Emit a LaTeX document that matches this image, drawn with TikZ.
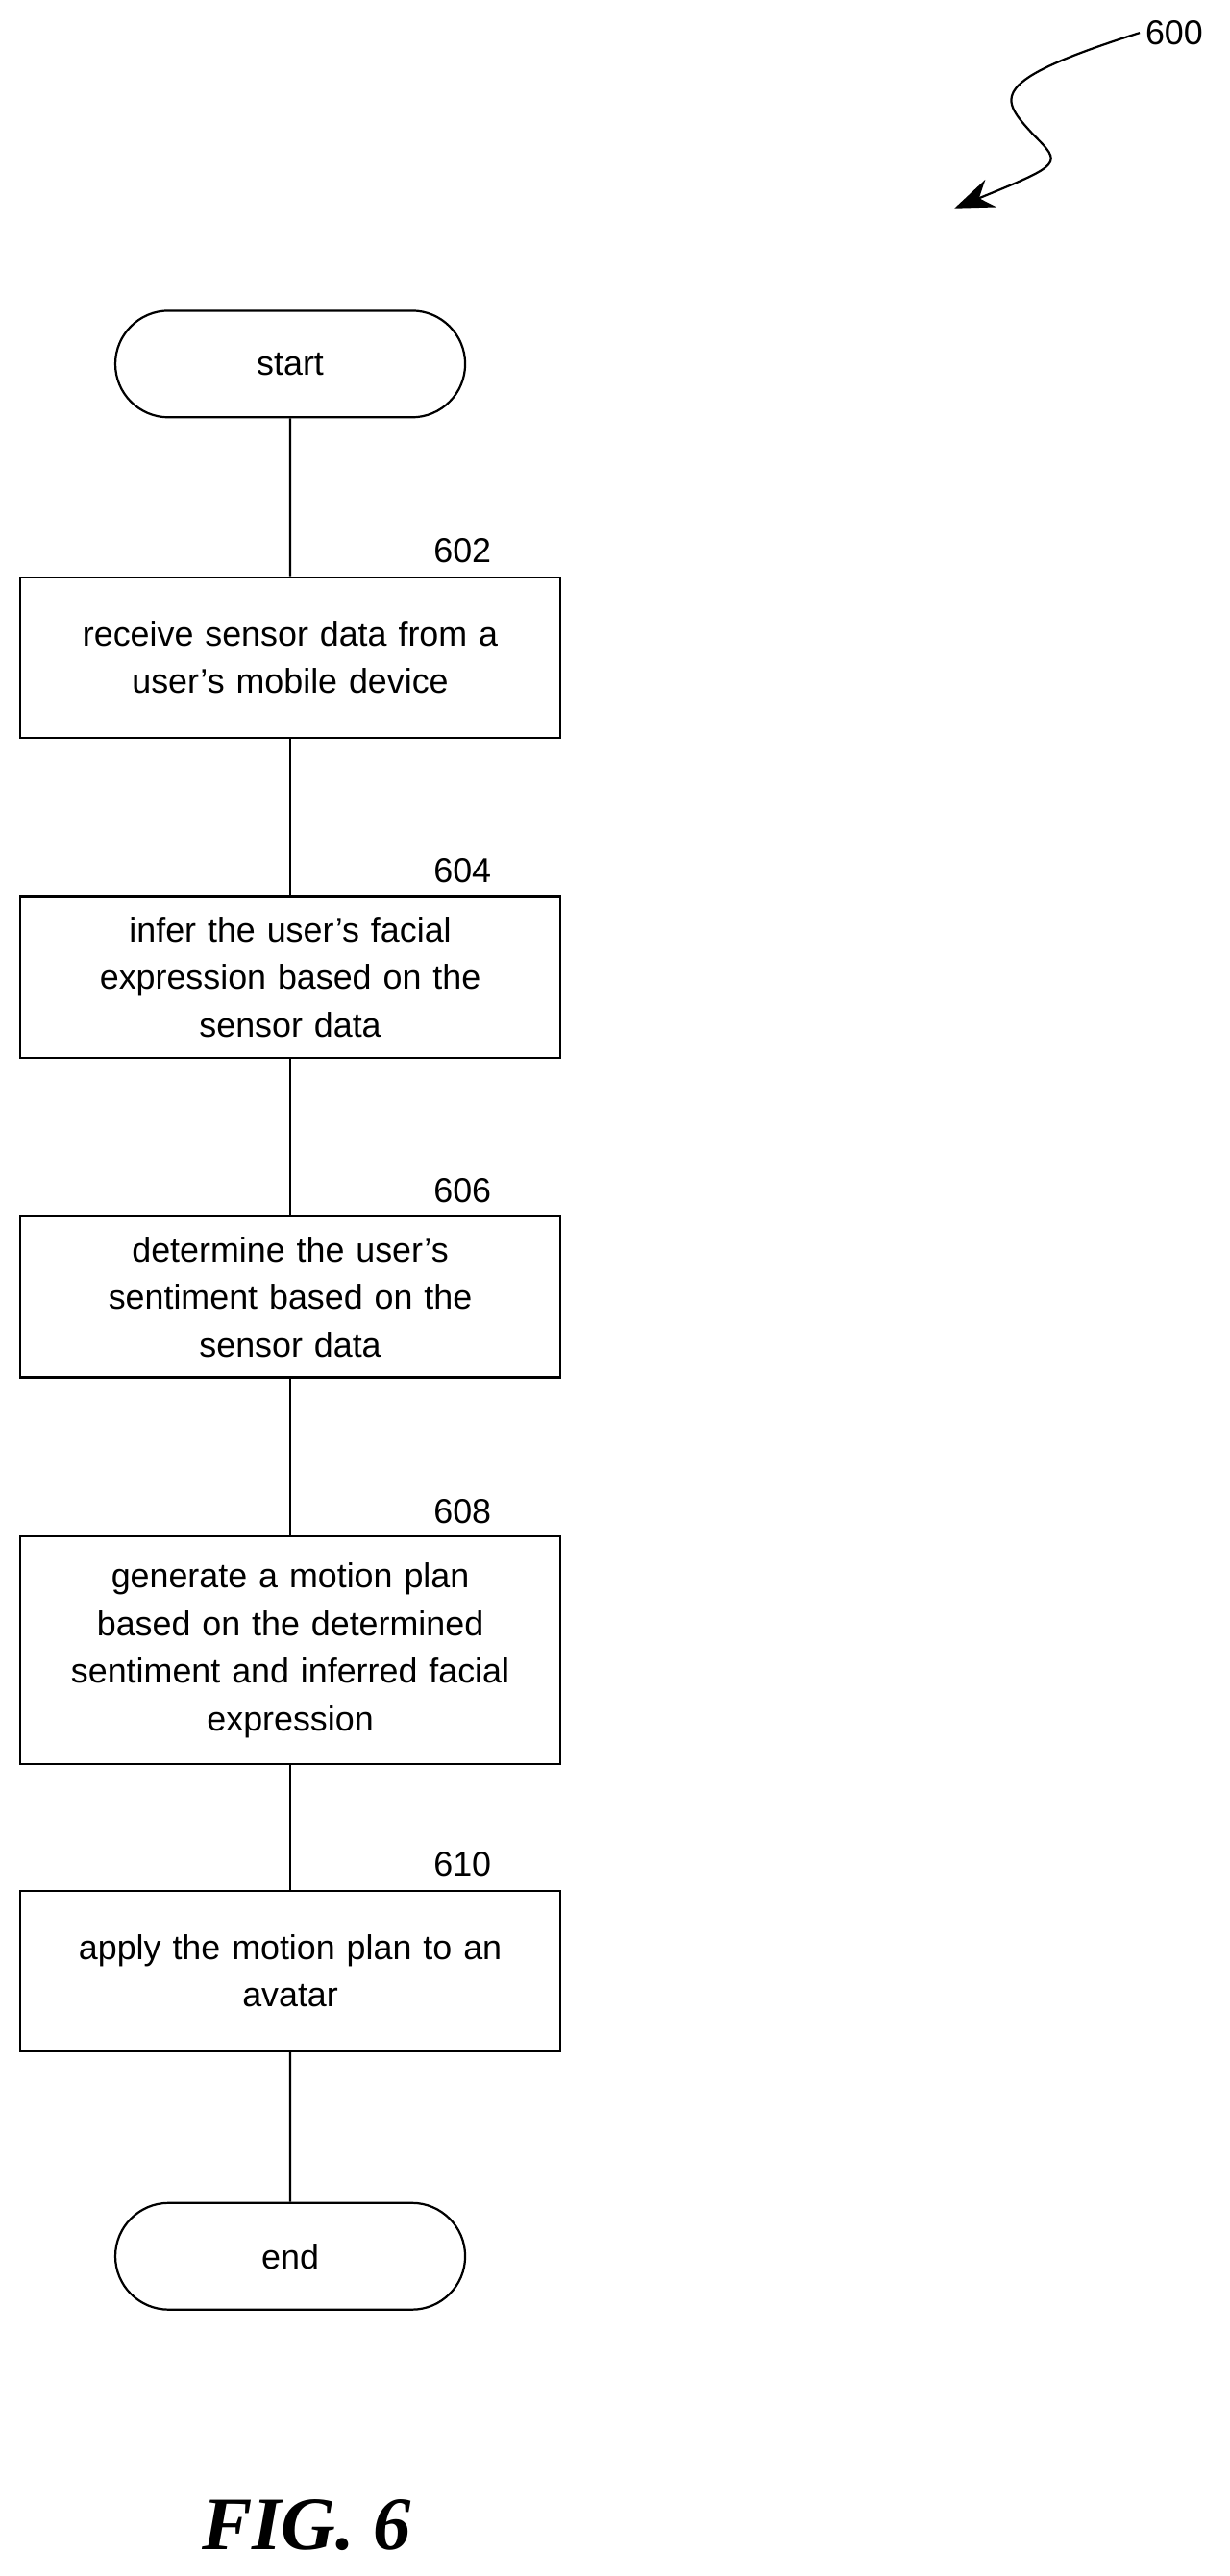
\documentclass[tikz,border=0pt]{standalone}
\usepackage{fontspec}
\setmainfont{Liberation Sans}
\newfontfamily\figfont{Liberation Serif}
\usetikzlibrary{calc}
\usetikzlibrary{shapes}
\usetikzlibrary{arrows.meta}
\tikzset{
  stepbox/.style={draw, line width=1.3pt, minimum width=329pt, inner sep=0pt, align=center,
    text width=320pt, font=\fontsize{21}{29}\selectfont},
  term/.style={draw, line width=1.3pt, rounded rectangle, minimum width=220pt, minimum height=65pt,
    font=\fontsize{21}{29}\selectfont},
  refnum/.style={font=\fontsize{21}{25}\selectfont},
}
\newcommand{\refno}[3]{\node[refnum] (n#1) at ( #2 , #3 ) {#1};}
\begin{document}
\begin{tikzpicture}[x=1pt,y=-1pt]
        \useasboundingbox (0,0) rectangle (750,1571);
        % terminals
        \node[term] (start) at (177,222) {start};
        \node[term] (stop) at (177,1376) {end};
        % steps
        \node[stepbox, minimum height=98pt] (s602) at (177,401) {receive sensor data from a\\ user's mobile device};
        \node[stepbox, minimum height=98pt] (s604) at (177,596) {infer the user's facial\\ expression based on the\\ sensor data};
        \node[stepbox, minimum height=98pt] (s606) at (177,791) {determine the user's\\ sentiment based on the\\ sensor data};
        \node[stepbox, minimum height=139pt] (s608) at (177,1006.5) {generate a motion plan\\ based on the determined\\ sentiment and inferred facial\\ expression};
        \node[stepbox, minimum height=98pt] (s610) at (177,1202) {apply the motion plan to an\\ avatar};
        % labels
        \refno{602}{282}{336}
        \refno{604}{282}{531}
        \refno{606}{282}{726}
        \refno{608}{282}{922}
        \refno{610}{282}{1137}
        \refno{600}{716}{20}
        % connectors
        \draw[line width=1.3pt] (start) -- (s602);
        \draw[line width=1.3pt] (s602) -- (s604);
        \draw[line width=1.3pt] (s604) -- (s606);
        \draw[line width=1.3pt] (s606) -- (s608);
        \draw[line width=1.3pt] (s608) -- (s610);
        \draw[line width=1.3pt] (s610) -- (stop);
        % reference arrow
        \draw[line width=1.3pt, -{Stealth[length=24pt,width=18pt]}] (n600.west) .. controls (600,50) and (610,60) .. (630,82)
              .. controls (648,100) .. (582,127);
        \node[font=\figfont\bfseries\itshape\fontsize{46}{50}\selectfont] (fig) at (187,1540) {FIG. 6};
\end{tikzpicture}
\end{document}
